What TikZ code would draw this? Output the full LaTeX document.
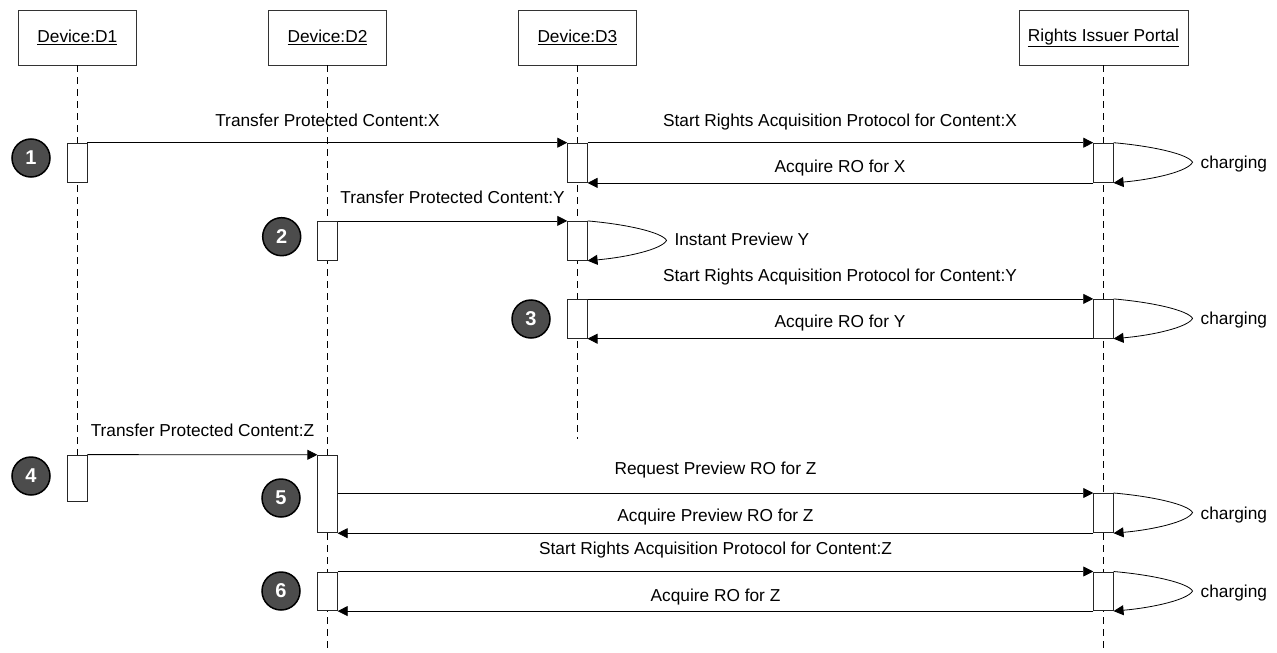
\documentclass[tikz,border=0pt]{standalone}
\usepackage{fontspec}
\setmainfont{Liberation Sans}
\usetikzlibrary{arrows.meta,calc}
\newcommand\myloop[1]{%
  \draw[msg] (#1.north east) .. controls ($(#1.north east)+(40,3.5)$) and ($(#1.north east)+(74.5,11.5)$) .. ($(#1.north east)+(79,19.5)$)
    .. controls ($(#1.south east)+(74.5,-11.5)$) and ($(#1.south east)+(40,-3.5)$) .. (#1.south east);}
\begin{document}
\begin{tikzpicture}[x=1pt,y=-1pt,
  every node/.style={font=\fontsize{17.3}{20}\selectfont, inner sep=0pt},
  head/.style={draw=black!80, line width=0.8pt, minimum width=117.5pt, minimum height=54.5pt, fill=white},
  act/.style={draw=black!85, line width=0.8pt, fill=white, minimum width=19.5pt},
  life/.style={draw=black, line width=0.8pt, dash pattern=on 7pt off 5pt},
  msg/.style={draw=black, line width=0.8pt, -{Triangle[length=10pt,width=10pt]}},
  lbl/.style={anchor=base},
  lblw/.style={anchor=base west},
  num/.style={circle, draw=black, line width=1.5pt, fill=black!70, minimum size=38pt, text=white, font=\fontsize{20}{20}\selectfont\bfseries}
]
\useasboundingbox (0,0) rectangle (1277,653);

% heads
\node[head] (d1) at (77.3,37.8) {\underline{Device:D1}};
\node[head] (d2) at (327.5,37.8) {\underline{Device:D2}};
\node[head] (d3) at (577.4,37.8) {\underline{Device:D3}};
\node[head, minimum width=169pt] (rip) at (1103.4,37.8) {\underline{Rights Issuer Portal}};

% lifeline ends
\coordinate (d1end) at (77.3,455);
\coordinate (d2end) at (327.5,653);
\coordinate (d3end) at (577.4,439);
\coordinate (ripend) at (1103.4,653);

\draw[life] (d1.south) -- (d1end);
\draw[life] (d2.south) -- (d2end);
\draw[life] (d3.south) -- (d3end);
\draw[life] (rip.south) -- (ripend);

% activation boxes
\node[act, minimum height=39.4pt] (a1) at (77.3,162.8) {};
\node[act, minimum height=39.4pt] (c1) at (577.4,162.8) {};
\node[act, minimum height=39.4pt] (r1) at (1103.4,162.8) {};
\node[act, minimum height=39pt] (b2) at (327.5,240.8) {};
\node[act, minimum height=39pt] (c2) at (577.4,240.8) {};
\node[act, minimum height=39pt] (c3) at (577.4,318.8) {};
\node[act, minimum height=39pt] (r3) at (1103.4,318.8) {};
\node[act, minimum height=46.6pt] (a4) at (77.3,478.3) {};
\node[act, minimum height=77.6pt] (b5) at (327.5,494) {};
\node[act, minimum height=39.4pt] (r5) at (1103.4,513.1) {};
\node[act, minimum height=38.8pt] (b6) at (327.5,591.3) {};
\node[act, minimum height=38.8pt] (r6) at (1103.4,591.3) {};

% messages
\draw[msg] (a1.north east) -- (c1.north west);
\draw[msg] (c1.north east) -- (r1.north west);
\draw[msg] (r1.south west) -- (c1.south east);
\myloop{r1}
\draw[msg] (b2.north east) -- (c2.north west);
\myloop{c2}
\draw[msg] (c3.north east) -- (r3.north west);
\draw[msg] (r3.south west) -- (c3.south east);
\myloop{r3}
\draw[msg] (a4.north east) -- (b5.north west);
\draw[msg] (b5.east |- r5.north) -- (r5.north west);
\draw[msg] (r5.south west) -- (b5.south east);
\myloop{r5}
\draw[msg] (b6.north east) -- (r6.north west);
\draw[msg] (r6.south west) -- (b6.south east);
\myloop{r6}

% labels
\node[lbl] (t1) at (327.5,126) {Transfer Protected Content:X};
\node[lbl] (t2) at (840,126) {Start Rights Acquisition Protocol for Content:X};
\node[lbl] (t3) at (840,172.6) {Acquire RO for X};
\node[lblw] (ch1) at (1200.5,168) {charging};
\node[lbl] (t4) at (452.5,203.3) {Transfer Protected Content:Y};
\node[lblw] (t5) at (674.3,245.7) {Instant Preview Y};
\node[lbl] (t6) at (840,281) {Start Rights Acquisition Protocol for Content:Y};
\node[lbl] (t7) at (840,327.7) {Acquire RO for Y};
\node[lblw] (ch2) at (1200.5,324) {charging};
\node[lbl] (t8) at (202.5,436.7) {Transfer Protected Content:Z};
\node[lbl] (t9) at (715.5,474.3) {Request Preview RO for Z};
\node[lbl] (t10) at (715.5,521.7) {Acquire Preview RO for Z};
\node[lblw] (ch3) at (1200.5,519) {charging};
\node[lbl] (t11) at (715.5,554.3) {Start Rights Acquisition Protocol for Content:Z};
\node[lbl] (t12) at (715.5,601.5) {Acquire RO for Z};
\node[lblw] (ch4) at (1200.5,597) {charging};

% step numbers
\node[num] (n1) at (31,158) {1};
\node[num] (n2) at (281.7,236.7) {2};
\node[num] (n3) at (531,319) {3};
\node[num] (n4) at (31,476) {4};
\node[num] (n5) at (281,498) {5};
\node[num] (n6) at (281,591) {6};
\end{tikzpicture}
\end{document}
